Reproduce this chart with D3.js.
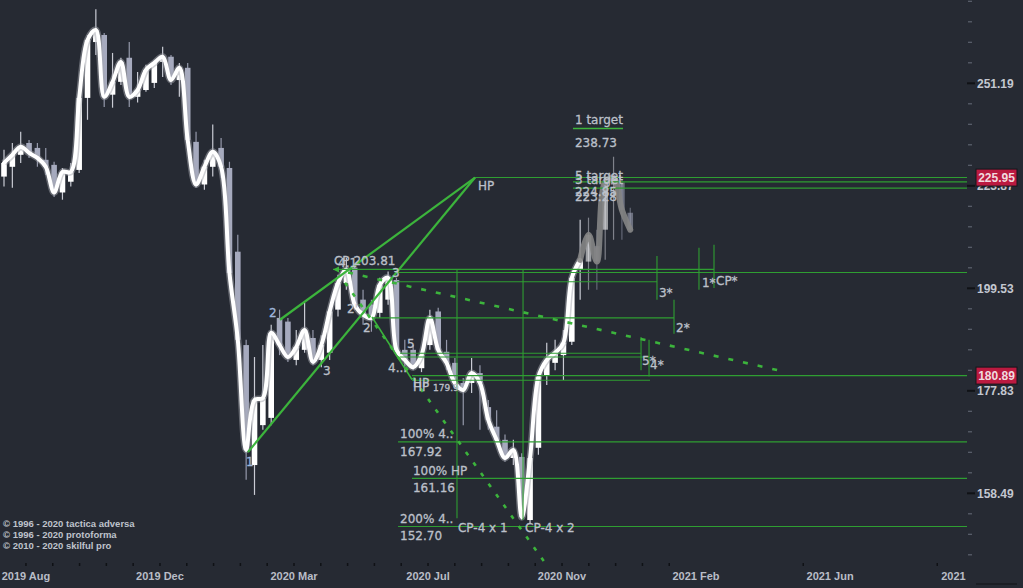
<!DOCTYPE html>
<html><head><meta charset="utf-8">
<script src="https://cdn.jsdelivr.net/npm/d3@7"></script>
<style>
html,body{margin:0;padding:0;background:#262a33;overflow:hidden}
svg{display:block}
</style></head><body>
<svg id="c" width="1023" height="588"></svg>
<script>
// ---------- DATA (weekly candles) ----------
const opens  = [226.2,228.7,231.8,234.9,233.6,230.5,229.2,222.2,224.9,227.9,247.1,263.1,265.2,248.0,251.6,258.5,247.4,249.3,251.3,257.3,258.8,252.1,255.6,235.2,224.2,228.7,233.6,228.4,207.9,187.2,163.6,171.1,172.5,193.0,192.2,184.1,186.2,188.7,184.1,185.6,194.8,200.7,204.2,197.0,195.9,194.1,197.0,201.4,186.2,186.2,182.4,187.2,194.4,185.8,183.5,179.4,179.4,181.4,174.6,170.8,168.3,164.9,165.1,153.8,166.8,181.0,183.5,185.1,187.9,203.7,205.6,209.2,213.1,224.2,224.7,217.2];
const highs  = [233.1,234.9,237.9,235.7,234.9,233.6,230.0,228.4,229.7,248.0,265.2,273.0,265.8,259.9,258.5,263.1,254.4,256.5,257.9,261.7,259.3,257.0,257.0,237.9,230.5,239.8,236.2,230.0,211.9,188.3,184.7,187.2,191.5,194.8,193.0,190.4,196.3,190.4,189.3,194.8,202.6,206.5,204.9,199.2,197.0,201.9,203.3,201.9,188.3,187.2,186.2,194.8,195.2,188.3,184.5,180.4,184.5,183.0,176.0,174.0,169.3,168.3,165.8,165.5,181.6,187.7,188.3,190.4,203.3,215.5,216.0,213.1,226.6,231.3,225.4,218.4];
const lows   = [223.7,223.4,229.7,231.0,228.7,226.6,221.1,220.4,223.7,227.1,241.1,259.3,244.6,244.4,250.7,244.6,245.8,248.8,249.9,253.0,250.7,247.4,234.4,223.4,222.9,226.2,225.9,202.6,187.9,160.9,158.2,170.2,171.1,185.1,183.7,183.0,185.6,183.0,182.6,184.1,193.3,199.2,194.8,191.5,190.0,193.0,195.9,185.1,182.0,182.0,181.6,186.2,185.1,182.0,178.4,171.1,177.4,170.2,170.2,167.4,164.2,163.6,153.8,153.3,165.5,179.0,182.0,180.0,187.2,197.0,199.2,199.2,206.0,210.7,210.7,212.6];
const closes = [229.7,231.8,233.9,232.3,231.0,228.7,222.2,227.4,227.4,247.1,263.7,266.7,247.4,251.6,257.3,247.4,249.3,255.0,257.0,258.8,252.1,255.6,235.7,224.2,228.7,232.6,228.7,203.0,188.3,166.4,176.0,176.4,189.8,187.2,184.7,186.8,190.4,183.7,187.2,194.4,200.7,203.7,195.9,193.7,193.0,200.3,201.9,186.2,184.1,182.6,185.1,193.0,186.2,183.5,179.4,178.0,181.4,179.4,172.1,168.3,164.9,166.4,154.3,164.9,180.6,184.1,185.6,187.7,201.9,206.0,211.9,205.6,224.9,225.9,217.9,213.1];
const fadeFrom = 70;           // candles drawn faded from this bar on
const lineGrayFrom = 69;       // the smooth line turns grey from this bar on

// axis
const yMajorLogs = [2.2, 2.25, 2.3, 2.35, 2.4];
const xTickLabels = ["2019 Aug","2019 Dec","2020 Mar","2020 Jul","2020 Nov","2021 Feb","2021 Jun","2021 Oct"];
const xTickIndex  = [2.63, 18.68, 34.73, 50.78, 66.83, 82.88, 98.93, 114.98];
const xMinorSteps = [0,1,2,3,4,5,6,7,8,9,10,11,12,13,14,15,16,17,18,19,20,21,22,23,24,29,34];
const lastPrices = [225.95, 180.89];

// annotations (bar index, price)
const trendLines = [[[29.22,166.0],[56.41,225.95]], [[33.05,192.6],[56.41,225.95]]];
const levelPrice = [238.73,225.95,224.85,223.28,203.81,203.1,201.0,193.0,185.5,184.7,180.89,179.95,167.92,161.16,152.70];
const levelFrom  = [68.14,56.41,68.14,68.14,39.40,47.07,47.07,44.07,47.43,47.43,48.86,48.86,47.19,48.86,47.19];
const levelTo    = [74.13,null,null,null,85.03,null,78.20,80.24,76.29,77.25,null,77.37,null,null,null];
const verticals  = [[54.25,203.81,154.1],[62.16,203.81,153.8],[83.23,208.8,199.2],[85.03,209.5,199.6],[78.20,206.9,197.0],[80.24,197.0,189.6],[76.29,188.9,182.0],[77.25,188.3,180.7]];
const thinDiag   = [[44.07,193.2],[48.86,180.1]];
const dottedLine = [[40.84,200.8],[64.79,146.6]];
const dashedLine = [[41.20,203.1],[93.17,181.8]];
const labels = [
 ["1 target",68.38,240.0,"n"],["238.73",68.38,233.9,"n"],
 ["5 target",68.38,225.4,"n"],["3 target",68.38,224.4,"n"],["224.85",68.38,221.4,"n"],["223.28",68.38,220.2,"n"],
 ["HP",56.77,222.7,"n"],
 ["4.1",40.0,204.4,"n"],["CP 203.81",39.52,204.85,"n"],["3",46.47,202.1,"n"],
 ["2",31.74,193.3,"b"],["1",28.98,163.4,"b"],["3",38.2,181.0,"n"],
 ["2'",41.08,194.0,"n"],["2",42.99,190.0,"n"],["5",48.26,186.6,"n"],["4...",45.99,181.6,"n"],
 ["HP",48.98,178.6,"n"],["HP",48.98,177.8,"n"],["179.9",51.38,177.8,"s"],
 ["100%  4..",47.43,168.6,"n"],["167.92",47.43,165.2,"n"],
 ["100% HP",48.98,161.8,"n"],["161.16",48.98,158.7,"n"],
 ["200%  4..",47.43,153.3,"n"],["152.70",47.43,150.4,"n"],
 ["CP-4 x 1",54.37,151.7,"n"],["CP-4 x 2",62.40,151.7,"n"],
 ["1*",83.59,199.8,"n"],["CP*",85.27,200.3,"n"],["3*",78.44,197.6,"n"],["2*",80.48,190.0,"n"],
 ["5*",76.41,183.1,"n"],["4*",77.37,182.2,"n"]
];
const copyright = ["© 1996 - 2020 tactica adversa","© 1996 - 2020 protoforma","© 2010 - 2020 skilful pro"];

// ---------- SCALES ----------
const W=1023,H=588, plotRight=967;
const x = d3.scaleLinear().domain([0,115]).range([4,4+115*8.35]);
const y = d3.scaleLog().domain([Math.pow(10,2.4),Math.pow(10,2.2)]).range([83.3,493.3]);

const svg=d3.select("#c");
svg.append("rect").attr("width",W).attr("height",H).attr("fill","#262a33");
svg.append("defs").append("clipPath").attr("id","plotclip").append("rect").attr("x",0).attr("y",0).attr("width",plotRight).attr("height",H);

// ---------- CANDLES ----------
const data = opens.map((o,i)=>({i,o,h:highs[i],l:lows[i],c:closes[i]}));
const cg=svg.append("g");
const bw=5.6;
data.forEach(d=>{
  const up=d.c>=d.o;
  const body=up?"#ffffff":"#a6aabe";
  const wick=up?"#c9cbd4":"#9599ab";
  const op=d.i>=fadeFrom?0.55:1;
  cg.append("line").attr("x1",x(d.i)).attr("x2",x(d.i)).attr("y1",y(d.h)).attr("y2",y(d.l))
    .attr("stroke",wick).attr("stroke-width",1.2).attr("opacity",op);
  const top=y(Math.max(d.o,d.c)), bot=y(Math.min(d.o,d.c));
  cg.append("rect").attr("x",x(d.i)-bw/2).attr("width",bw).attr("y",top).attr("height",Math.max(1.2,bot-top))
    .attr("fill",body).attr("opacity",op);
});

// ---------- SMOOTH LINE ----------
const ln=d3.line().x(d=>x(d.i)).y(d=>y(d.c)).curve(d3.curveCatmullRom.alpha(0.5));
const mainPart=data.filter(d=>d.i<=lineGrayFrom), tail=data.filter(d=>d.i>=lineGrayFrom);
svg.append("path").datum(mainPart).attr("d",ln).attr("fill","none").attr("stroke","#a3a5ad").attr("stroke-width",7).attr("opacity",0.5).attr("stroke-linejoin","round");
svg.append("path").datum(mainPart).attr("d",ln).attr("fill","none").attr("stroke","#ffffff").attr("stroke-width",4).attr("stroke-linejoin","round").attr("stroke-linecap","round");
svg.append("path").datum(tail).attr("d",ln).attr("fill","none").attr("stroke","#858585").attr("stroke-width",6).attr("opacity",0.9).attr("stroke-linejoin","round").attr("stroke-linecap","round");

// ---------- ANNOTATIONS ----------
const ag=svg.append("g").attr("clip-path","url(#plotclip)");
const G1="#2f9e32", G2="#3cb43c";
levelPrice.forEach((p,k)=>{
  const x1=x(levelFrom[k]), x2=levelTo[k]==null?plotRight:x(levelTo[k]);
  ag.append("line").attr("x1",x1).attr("x2",x2).attr("y1",y(p)).attr("y2",y(p))
    .attr("stroke",k===0?G2:G1).attr("stroke-width",k===0?1.5:1.1);
});
verticals.forEach(v=>{
  ag.append("line").attr("x1",x(v[0])).attr("x2",x(v[0])).attr("y1",y(v[1])).attr("y2",y(v[2]))
    .attr("stroke",G1).attr("stroke-width",1.1);
});
trendLines.forEach(t=>{
  ag.append("line").attr("x1",x(t[0][0])).attr("y1",y(t[0][1])).attr("x2",x(t[1][0])).attr("y2",y(t[1][1]))
    .attr("stroke",G2).attr("stroke-width",2.2);
});
ag.append("line").attr("x1",x(thinDiag[0][0])).attr("y1",y(thinDiag[0][1])).attr("x2",x(thinDiag[1][0])).attr("y2",y(thinDiag[1][1]))
  .attr("stroke",G2).attr("stroke-width",1.5);
ag.append("line").attr("x1",x(dottedLine[0][0])).attr("y1",y(dottedLine[0][1])).attr("x2",x(dottedLine[1][0])).attr("y2",y(dottedLine[1][1]))
  .attr("stroke",G2).attr("stroke-width",2.6).attr("stroke-dasharray","4 9");
ag.append("line").attr("x1",x(dashedLine[0][0])).attr("y1",y(dashedLine[0][1])).attr("x2",x(dashedLine[1][0])).attr("y2",y(dashedLine[1][1]))
  .attr("stroke",G2).attr("stroke-width",2.6).attr("stroke-dasharray","5 10");
{
  const ax=x(levelFrom[4]), ay=y(levelPrice[4]);
  ag.append("path").attr("d",`M${ax},${ay} L${ax+6},${ay-3} L${ax+6},${ay+3} Z`).attr("fill",G2);
}

// labels
const lg=svg.append("g").attr("font-family","'DejaVu Sans',sans-serif");
labels.forEach(L=>{
  const col=L[3]==="b"?"#9fb6dc":"#bcc0ca";
  lg.append("text").attr("x",x(L[1])).attr("y",y(L[2])).text(L[0])
    .attr("font-size",L[3]==="s"?"9px":"12px")
    .attr("fill",col).attr("stroke",col).attr("stroke-width",0.3);
});

// copyright
const cpg=svg.append("g").attr("font-family","'Liberation Sans',Arial,sans-serif").attr("font-weight","bold").attr("font-size","9.5px").attr("fill","#bfc3cc");
copyright.forEach((t,k)=>cpg.append("text").attr("x",3).attr("y",527+k*11).text(t));

// ---------- RIGHT AXIS ----------
const rg=svg.append("g");
for(let k=217;k<=244;k++){
  const lv=k/100;
  const major=yMajorLogs.some(m=>Math.abs(m-lv)<1e-6);
  const yy=y(Math.pow(10,lv));
  if(!major) rg.append("line").attr("x1",968).attr("x2",972).attr("y1",yy).attr("y2",yy).attr("stroke","#5d636f").attr("stroke-width",1.2);
}
yMajorLogs.forEach(m=>{
  const v=Math.pow(10,m), yy=y(v);
  rg.append("line").attr("x1",967).attr("x2",975).attr("y1",yy).attr("y2",yy).attr("stroke","#101216").attr("stroke-width",2);
  rg.append("text").attr("x",977).attr("y",yy).attr("dy","0.36em").text(v.toFixed(2))
    .attr("font-family","'Liberation Sans',Arial,sans-serif").attr("font-weight","bold").attr("font-size","12px").attr("fill","#c3c7d0");
});
lastPrices.forEach(p=>{
  const yy=y(p);
  rg.append("rect").attr("x",976).attr("y",yy-8.5).attr("width",41).attr("height",17).attr("fill","#bb1a40").attr("stroke","#14161b").attr("stroke-width",1);
  rg.append("text").attr("x",996.5).attr("y",yy).attr("dy","0.36em").attr("text-anchor","middle").text(p.toFixed(2))
    .attr("font-family","'Liberation Sans',Arial,sans-serif").attr("font-weight","bold").attr("font-size","12px").attr("fill","#f1d9df");
});

// ---------- BOTTOM AXIS ----------
const bg=svg.append("g");
const step=(xTickIndex[1]-xTickIndex[0])/5;
xMinorSteps.forEach(k=>{
  const xx=x(xTickIndex[0]+k*step);
  bg.append("line").attr("x1",xx).attr("x2",xx).attr("y1",563).attr("y2",566).attr("stroke","#0f1115").attr("stroke-width",1.5);
});
const bl=bg.append("g").attr("clip-path","url(#plotclip)");
xTickLabels.forEach((t,k)=>{
  bl.append("text").attr("x",x(xTickIndex[k])).attr("y",580).attr("text-anchor","middle").text(t)
    .attr("font-family","'Liberation Sans',Arial,sans-serif").attr("font-weight","bold").attr("font-size","11px").attr("fill","#b9bdc7");
});
svg.append("line").attr("x1",976).attr("x2",1017).attr("y1",584).attr("y2",584).attr("stroke","#111317").attr("stroke-width",1);
</script>
</body></html>
